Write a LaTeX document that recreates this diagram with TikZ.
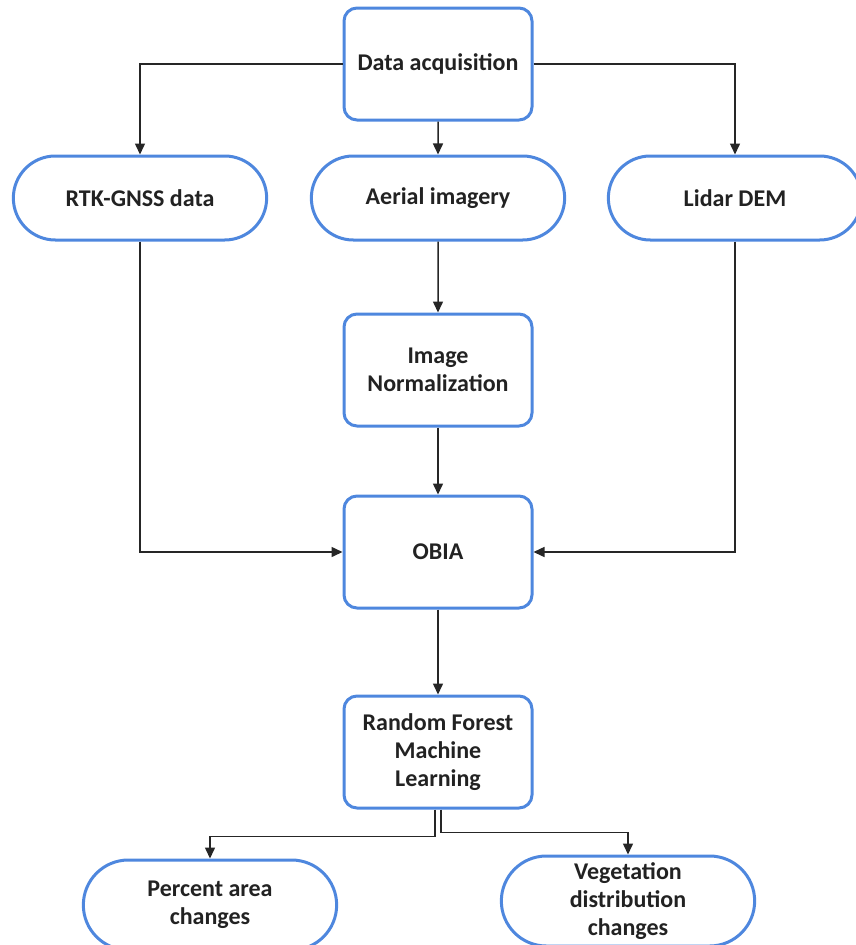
\documentclass[tikz,border=0pt]{standalone}
\usepackage{fontspec}
\setmainfont{Carlito}
\usetikzlibrary{arrows.meta,shapes.misc}
\definecolor{boxblue}{RGB}{78,135,222}
\definecolor{txtgray}{RGB}{34,34,34}

\begin{document}
\begin{tikzpicture}[x=1pt,y=-1pt,
  procbox/.style={draw=boxblue, line width=3pt, rounded corners=13pt, fill=white,
    minimum width=188pt, minimum height=112pt, align=center,
    font=\bfseries\fontsize{24}{28}\selectfont, text=txtgray},
  datanode/.style={draw=boxblue, line width=3pt, rounded rectangle, fill=white,
    minimum width=260pt, minimum height=84pt, align=center,
    font=\bfseries\fontsize{24}{28}\selectfont, text=txtgray},
  flow/.style={draw=black!85, line width=1.5pt, -{Triangle[length=11pt,width=10pt]}}]

\useasboundingbox (0,0) rectangle (855,945);

% Boxes
\node[procbox] (acq) at (438,64) {Data acquisition};
\node[datanode] (rtk) at (140,198) {RTK-GNSS data};
\node[datanode] (aerial) at (438,198) {Aerial imagery};
\node[datanode] (lidar) at (735,198) {Lidar DEM};
\node[procbox] (norm) at (438,370) {Image\\Normalization};
\node[procbox] (obia) at (438,552) {OBIA};
\node[procbox] (rf) at (438,752) {Random Forest\\Machine\\Learning};
\node[datanode, minimum height=90pt] (pct) at (210,905) {Percent area\\changes};
\node[datanode, minimum height=90pt] (veg) at (628,901) {Vegetation\\distribution\\changes};

% Connections
\draw[flow] (acq.west) -| (rtk.north);
\draw[flow] (acq) -- (aerial);
\draw[flow] (acq.east) -| (lidar.north);
\draw[flow] (aerial) -- (norm);
\draw[flow] (norm) -- (obia);
\draw[flow] (rtk.south) |- (obia.west);
\draw[flow] (lidar.south) |- (obia.east);
\draw[flow] (obia) -- (rf);

% Outputs
\draw[flow] ([xshift=-3pt]rf.south) -- ++(0,27) -| (pct.north);
\draw[flow] ([xshift=3pt]rf.south) -- ++(0,23) -| (veg.north);

\end{tikzpicture}
\end{document}
